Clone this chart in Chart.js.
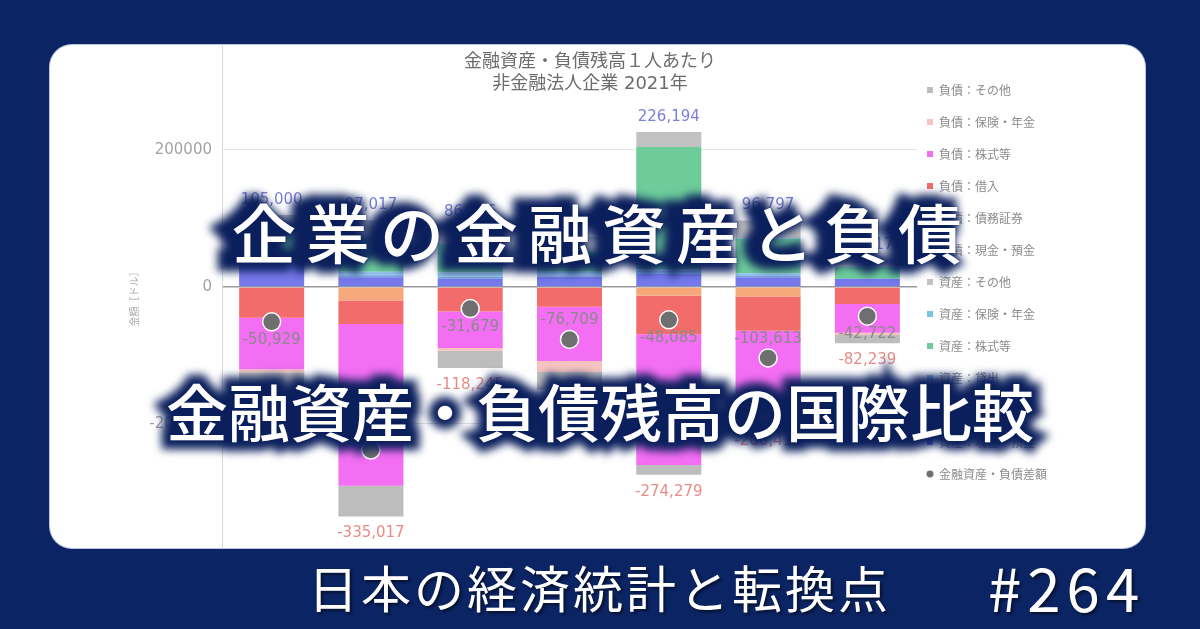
<!DOCTYPE html>
<html><head><meta charset="utf-8">
<script src="https://cdn.jsdelivr.net/npm/chart.js@4.4.1/dist/chart.umd.min.js"></script>
<style>
html,body{margin:0;padding:0}
body{width:1200px;height:629px;background:#0b2463;position:relative;overflow:hidden;font-family:'Noto Sans CJK JP',sans-serif}
#panel{position:absolute;left:50px;top:45px;width:1095px;height:503px;background:#fff;border-radius:22px;overflow:hidden;box-shadow:0 0 0 1px #b9c6e6}
#wrap{position:absolute;left:0;top:0;width:1095px;height:503px}
.big{position:absolute;white-space:nowrap;color:#fff;font-weight:500;transform:translate(-50%,-50%);line-height:1.2;font-family:'Noto Sans CJK JP',sans-serif;text-shadow:0 0 2px #0b1f5c}
.big::before{content:attr(data-t);position:absolute;left:0;top:0;z-index:-1;color:#0b1f5c;-webkit-text-stroke:18px #0b1f5c;filter:blur(4px);text-shadow:0 0 10px #0b1f5c}
#t1{left:597px;top:230px;font-size:64px;letter-spacing:10px;padding-left:10px}
#t2{left:600px;top:410px;font-size:62px}
#cap{position:absolute;left:308px;top:556px;font-size:50px;letter-spacing:3px;color:#fff;font-weight:400;line-height:1.2;white-space:nowrap;text-shadow:2px 2px 3px rgba(0,0,0,.55)}
#num{position:absolute;left:988px;top:550px;font-size:60px;letter-spacing:6px;color:#fff;font-weight:400;line-height:1.2;white-space:nowrap;text-shadow:2px 2px 3px rgba(0,0,0,.55)}
</style></head>
<body>
<div id="panel"><div id="wrap"><canvas id="c"></canvas></div></div>
<div class="big" id="t1" data-t="企業の金融資産と負債">企業の金融資産と負債</div>
<div class="big" id="t2" data-t="金融資産・負債残高の国際比較">金融資産・負債残高の国際比較</div>
<div id="cap">日本の経済統計と転換点</div>
<div id="num">#264</div>
<script>
// ---- data (USD per capita, non-financial corporations, 2021) ----
const categories = ['日本', '米国', 'ドイツ', '英国', 'フランス', 'カナダ', 'イタリア'];

const assetCash   = [40000, 14000, 12000, 15000, 19000, 14000, 12000];
const assetDebt   = [3000, 3000, 3000, 2000, 5000, 2000, 0];
const assetLoans  = [5000, 5000, 6000, 5000, 2000, 4000, 0];
const assetEquity = [35000, 50000, 40000, 30000, 178194, 50000, 17500];
const assetIns    = [2000, 2000, 1500, 1000, 0, 1000, 0];
const assetOther  = [20000, 23017, 24066, 20291, 22000, 25797, 10017];

const liabCash    = [0, 0, 0, 0, 0, 0, 0];
const liabDebt    = [0, -20000, 0, 0, -13000, -14000, 0];
const liabLoans   = [-45000, -34000, -36000, -29000, -56000, -50000, -25000];
const liabEquity  = [-75000, -236000, -53000, -79000, -191000, -110000, -42000];
const liabIns     = [-5000, 0, -4000, -16000, 0, -5000, -3000];
const liabOther   = [-30929, -45017, -25245, -26000, -14279, -21410, -12239];

const netDiff     = [-50929, -238000, -31679, -76709, -48085, -103613, -42722];

const yTickValues = [200000, 0, -200000];
const titleLines  = ['金融資産・負債残高１人あたり', '非金融法人企業 2021年'];
const yAxisTitle  = '金額［ドル］';

// ---- chart ----
const LAT = "'DejaVu Sans', 'Noto Sans CJK JP', sans-serif";
const CJK = "'Noto Sans CJK JP', sans-serif";

const barSeries = [
  ['資産：現金・預金', assetCash, '#7579ec'],
  ['資産：債務証券', assetDebt, '#79a7de'],
  ['資産：貸出', assetLoans, '#93c3ea'],
  ['資産：株式等', assetEquity, '#6dcc9a'],
  ['資産：保険・年金', assetIns, '#74c7dc'],
  ['資産：その他', assetOther, '#c2c2c2'],
  ['負債：現金・預金', liabCash, '#f3cf78'],
  ['負債：債務証券', liabDebt, '#f6a87a'],
  ['負債：借入', liabLoans, '#f36c6c'],
  ['負債：株式等', liabEquity, '#f46ef3'],
  ['負債：保険・年金', liabIns, '#f6c4c0'],
  ['負債：その他', liabOther, '#bdbdbd']
];

const datasets = [{
  type: 'line',
  label: '金融資産・負債差額',
  data: netDiff,
  stack: 'net',
  showLine: false,
  pointStyle: 'circle',
  pointRadius: 9,
  pointHoverRadius: 9,
  pointBackgroundColor: '#6f6f6f',
  pointBorderColor: '#ffffff',
  pointBorderWidth: 1.5,
  backgroundColor: '#6f6f6f',
  borderColor: '#6f6f6f'
}];
barSeries.forEach(([label, data, color]) => datasets.push({
  type: 'bar', label, data, backgroundColor: color, borderWidth: 0,
  pointStyle: 'rect', barPercentage: 0.655, categoryPercentage: 1, stack: 'bs'
}));

const fmt = v => v.toLocaleString('en-US');

const custom = {
  id: 'custom',
  beforeInit(chart) {
    const lg = chart.legend;
    if (lg) {
      const f = lg.fit;
      lg.fit = function () { f.call(this); this.width = 228; };
    }
  },
  afterLayout(chart) {
    const lg = chart.legend;
    if (lg) { lg.top += 19; lg.bottom += 19; lg.left -= 10; lg.right -= 10; }
  },
  afterDatasetsDraw(chart) {
    const ctx = chart.ctx, x = chart.scales.x, y = chart.scales.y;
    ctx.save();
    ctx.font = '15px ' + LAT;
    ctx.textAlign = 'center';
    ctx.textBaseline = 'middle';
    categories.forEach((c, i) => {
      let pos = 0, neg = 0;
      barSeries.forEach(s => { const v = s[1][i]; if (v > 0) pos += v; else neg += v; });
      const cx = x.getPixelForValue(i);
      ctx.fillStyle = '#7b7fd6';
      ctx.fillText(fmt(pos), cx, y.getPixelForValue(pos) - 15);
      ctx.fillStyle = '#e98c86';
      ctx.fillText(fmt(neg), cx, y.getPixelForValue(neg) + 17);
      ctx.fillStyle = '#8a8a8a';
      const dy = (i % 2 === 1) ? -19 : 18;
      ctx.fillText(fmt(netDiff[i]), cx, y.getPixelForValue(netDiff[i]) + dy);
    });
    ctx.restore();
  },
  afterDraw(chart) {
    const ctx = chart.ctx;
    ctx.save();
    ctx.font = '18px ' + LAT;
    ctx.fillStyle = '#6c6c6c';
    ctx.textAlign = 'center';
    ctx.textBaseline = 'middle';
    ctx.fillText(titleLines[0], 540, 17);
    ctx.fillText(titleLines[1], 540, 39);
    ctx.restore();
  }
};

new Chart(document.getElementById('c'), {
  type: 'bar',
  data: { labels: categories, datasets },
  options: {
    responsive: true,
    maintainAspectRatio: false,
    animation: false,
    layout: { autoPadding: false, padding: { left: 78, right: 0, top: 0, bottom: 0 } },
    plugins: {
      legend: {
        position: 'right',
        align: 'start',
        reverse: true,
        labels: {
          usePointStyle: true,
          boxWidth: 6, boxHeight: 6,
          padding: 20,
          color: '#8c8c8c',
          font: { size: 12, family: CJK }
        }
      },
      tooltip: { enabled: false },
      title: { display: false }
    },
    scales: {
      x: { display: false, stacked: true },
      y: {
        stacked: true,
        min: -381000, max: 353000,
        afterFit(scale) { scale.width = 94; scale.paddingTop = 0; scale.paddingBottom = 0; },
        afterBuildTicks(scale) { scale.ticks = yTickValues.map(v => ({ value: v })); },
        ticks: { color: '#a3a3a3', padding: 10, font: { size: 15, family: LAT }, callback: v => String(v) },
        grid: {
          drawTicks: false,
          color: c => (c.tick && c.tick.value === 0) ? '#9a9a9a' : '#e3e3e3',
          lineWidth: c => (c.tick && c.tick.value === 0) ? 1.5 : 1
        },
        border: { display: true, color: '#d8d8d8' },
        title: { display: true, text: yAxisTitle, color: '#a8a8a8', padding: 0, font: { size: 10, family: CJK } }
      }
    }
  },
  plugins: [custom]
});
</script>
</body></html>
